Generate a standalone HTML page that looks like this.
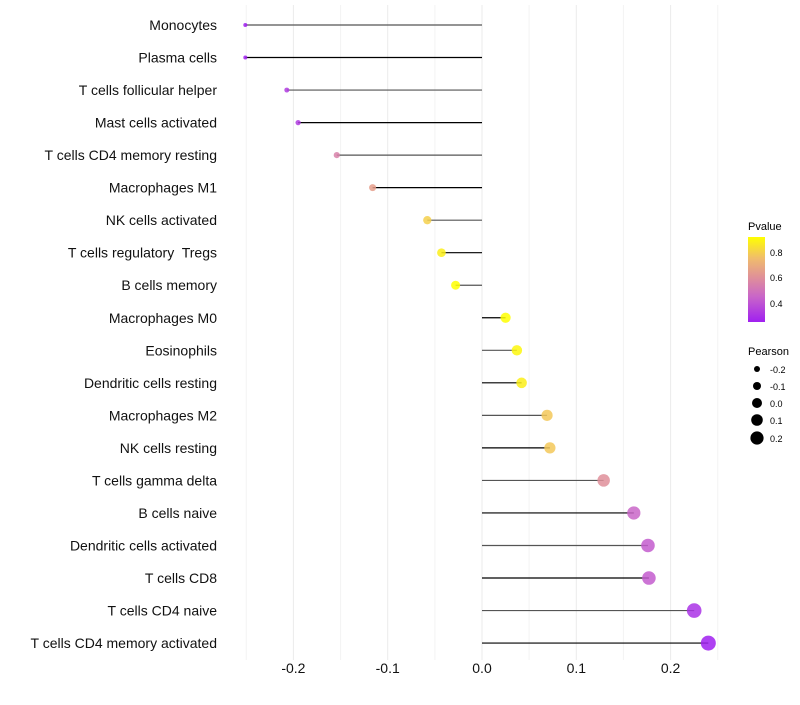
<!DOCTYPE html>
<html><head><meta charset="utf-8"><style>
body{margin:0;background:#fff;font-family:"Liberation Sans",sans-serif}
text{white-space:pre}
</style></head><body>
<svg id="chart" width="800" height="700" xmlns="http://www.w3.org/2000/svg" font-family="Liberation Sans, sans-serif">
<defs><linearGradient id="pg" x1="0" y1="1" x2="0" y2="0">
<stop offset="0" stop-color="#a020f0"/><stop offset="0.3" stop-color="#c966c8"/><stop offset="0.52" stop-color="#df8f9a"/><stop offset="0.75" stop-color="#f0bc6c"/><stop offset="1" stop-color="#ffff00"/></linearGradient></defs>
<g id="grid"></g><g id="marks"></g><g id="ylabels"></g><g id="xlabels"></g>
<g>
<text x="748" y="230" font-size="11">Pvalue</text>
<rect x="748" y="237" width="17" height="85" fill="url(#pg)"/>
<text x="770" y="256" font-size="9">0.8</text><text x="770" y="281" font-size="9">0.6</text><text x="770" y="307" font-size="9">0.4</text>
<text x="748" y="355" font-size="11">Pearson</text>
<circle cx="757" cy="369" r="3"/><text x="770" y="373" font-size="9">-0.2</text>
<circle cx="757" cy="386" r="4"/><text x="770" y="390" font-size="9">-0.1</text>
<circle cx="757" cy="403" r="5"/><text x="770" y="407" font-size="9">0.0</text>
<circle cx="757" cy="420" r="5.8"/><text x="770" y="424" font-size="9">0.1</text>
<circle cx="757" cy="438" r="6.6"/><text x="770" y="442" font-size="9">0.2</text>
</g>
</svg>
<script>
const cells=["Monocytes","Plasma cells","T cells follicular helper","Mast cells activated","T cells CD4 memory resting","Macrophages M1","NK cells activated","T cells regulatory  Tregs","B cells memory","Macrophages M0","Eosinophils","Dendritic cells resting","Macrophages M2","NK cells resting","T cells gamma delta","B cells naive","Dendritic cells activated","T cells CD8","T cells CD4 naive","T cells CD4 memory activated"];
const pearson=[-0.251,-0.251,-0.207,-0.195,-0.154,-0.116,-0.058,-0.043,-0.028,0.025,0.037,0.042,0.069,0.072,0.129,0.161,0.176,0.177,0.225,0.240];
const pvalue=[0.25,0.25,0.33,0.33,0.55,0.65,0.8,0.88,0.92,0.92,0.9,0.88,0.78,0.78,0.6,0.45,0.42,0.42,0.3,0.25];
const xTicks=[-0.2,-0.1,0.0,0.1,0.2];
const xTickLabels=["-0.2","-0.1","0.0","0.1","0.2"];
const NS="http://www.w3.org/2000/svg";
const xs=v=>482+v*943;
const ys=i=>25+i*32.53;
const rs=v=>2+(v+0.251)/0.491*5.5;
const stops=[[0.25,[160,32,240]],[0.45,[201,102,200]],[0.6,[223,143,154]],[0.75,[240,188,108]],[0.92,[255,255,0]]];
function col(p){p=Math.max(0.25,Math.min(0.92,p));for(let k=0;k<stops.length-1;k++){const[a,ca]=stops[k],[b,cb]=stops[k+1];if(p<=b){const t=(p-a)/(b-a);return"rgb("+ca.map((c,j)=>Math.round(c+(cb[j]-c)*t)).join(",")+")";}}return"rgb(255,255,0)";}
function mk(t,a,parent){const e=document.createElementNS(NS,t);for(const k in a)e.setAttribute(k,a[k]);parent.appendChild(e);return e;}
const grid=document.getElementById('grid'),marks=document.getElementById('marks'),yl=document.getElementById('ylabels'),xl=document.getElementById('xlabels');
for(let v=-0.25;v<=0.26;v+=0.05){const g=mk('line',{x1:xs(v),x2:xs(v),y1:5,y2:660,stroke:Math.abs(Math.round(v*100)%10)===5?'#f3f3f3':'#ebebeb','stroke-width':1},grid);

}
cells.forEach((c,i)=>{
const l=mk('line',{x1:xs(0),x2:xs(pearson[i]),y1:ys(i),y2:ys(i),stroke:i%2?'#000':'#555','stroke-width':1.2},marks);


const p=mk('circle',{cx:xs(pearson[i]),cy:ys(i),r:rs(pearson[i]),fill:col(pvalue[i]),'fill-opacity':0.85},marks);


const t=mk('text',{x:217,y:ys(i)+5,'text-anchor':'end','font-size':14,fill:'#111','xml:space':'preserve'},yl);t.textContent=c;


});
xTicks.forEach((v,i)=>{const t=mk('text',{x:xs(v),y:673,'text-anchor':'middle','font-size':14,fill:'#111'},xl);t.textContent=xTickLabels[i];

});
</script>
</body></html>
